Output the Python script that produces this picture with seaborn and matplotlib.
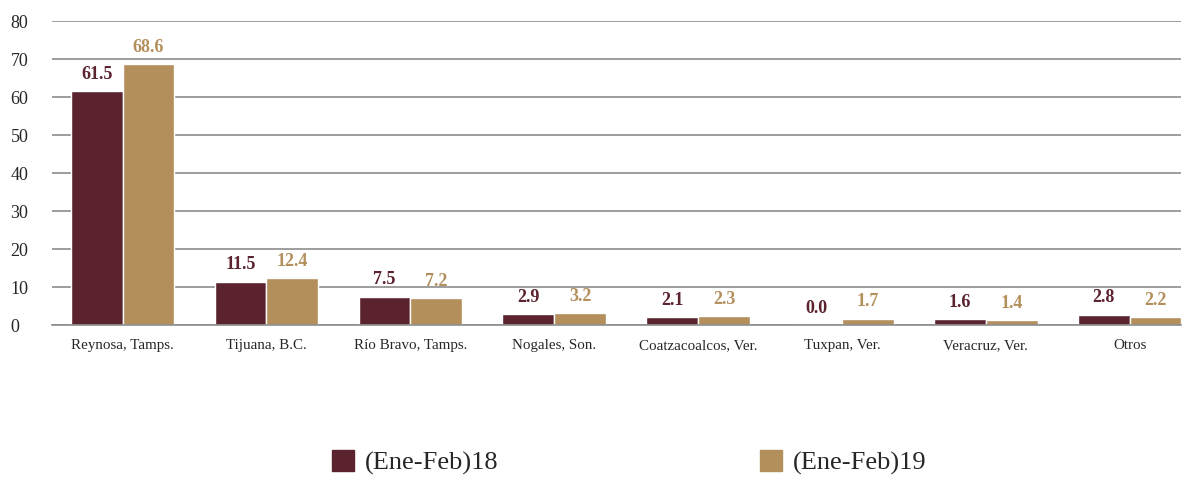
import matplotlib
matplotlib.use('Agg')
import matplotlib.pyplot as plt
import pandas as pd
import seaborn as sb

aduanas = ['Reynosa, Tamps.', 'Tijuana, B.C.', 'Río Bravo, Tamps.', 'Nogales, Son.',
           'Coatzacoalcos, Ver.', 'Tuxpan, Ver.', 'Veracruz, Ver.', 'Otros']
periodos = ['(Ene-Feb)18', '(Ene-Feb)19']
valores18 = [61.5, 11.5, 7.5, 2.9, 2.1, 0.0, 1.6, 2.8]
valores19 = [68.6, 12.4, 7.2, 3.2, 2.3, 1.7, 1.4, 2.2]
colores = ['#5A232D', '#B38F5C']

df = pd.DataFrame({
    'aduana': aduanas * 2,
    'periodo': [periodos[0]] * len(aduanas) + [periodos[1]] * len(aduanas),
    'valor': valores18 + valores19,
})

sb.set_style('white')
plt.rcParams['font.family'] = ['Liberation Serif', 'DejaVu Serif']

fig = plt.figure(figsize=(11.85, 4.79), dpi=100)
ax = fig.add_axes([0.044, 0.321, 0.953, 0.635])

sb.barplot(data=df, x='aduana', y='valor', hue='periodo', palette=colores,
           width=0.72, saturation=1, ax=ax, legend=False)

for cont, col in zip(ax.containers, colores):
    ax.bar_label(cont, fmt='%.1f', padding=6, color=col, fontsize=13, fontweight='bold')

ax.set_ylim(0, 80)
ax.set_yticks(range(0, 81, 10))
ax.set_xlim(-0.49, 7.36)
ax.yaxis.grid(True, color='#8C8C8C', linewidth=1.2)
ax.set_axisbelow(True)
for s in ['left', 'right', 'top']:
    ax.spines[s].set_visible(False)
ax.spines['bottom'].set_color('#8C8C8C')
ax.spines['bottom'].set_linewidth(1.2)
ax.tick_params(axis='x', labelsize=10.8, length=0, pad=10)
ax.tick_params(axis='y', labelsize=13, length=0, pad=30)
for lbl in ax.get_yticklabels():
    lbl.set_horizontalalignment('left')
ax.set_xlabel('')
ax.set_ylabel('')

handles = [plt.Rectangle((0, 0), 1, 1, color=c) for c in colores]
fig.legend(handles, periodos, loc='center', bbox_to_anchor=(0.531, 0.035), ncol=2,
           frameon=False, fontsize=19, handlelength=0.85, handleheight=0.85,
           handletextpad=0.4, columnspacing=9.9)

fig.savefig('out.png', dpi=100)
